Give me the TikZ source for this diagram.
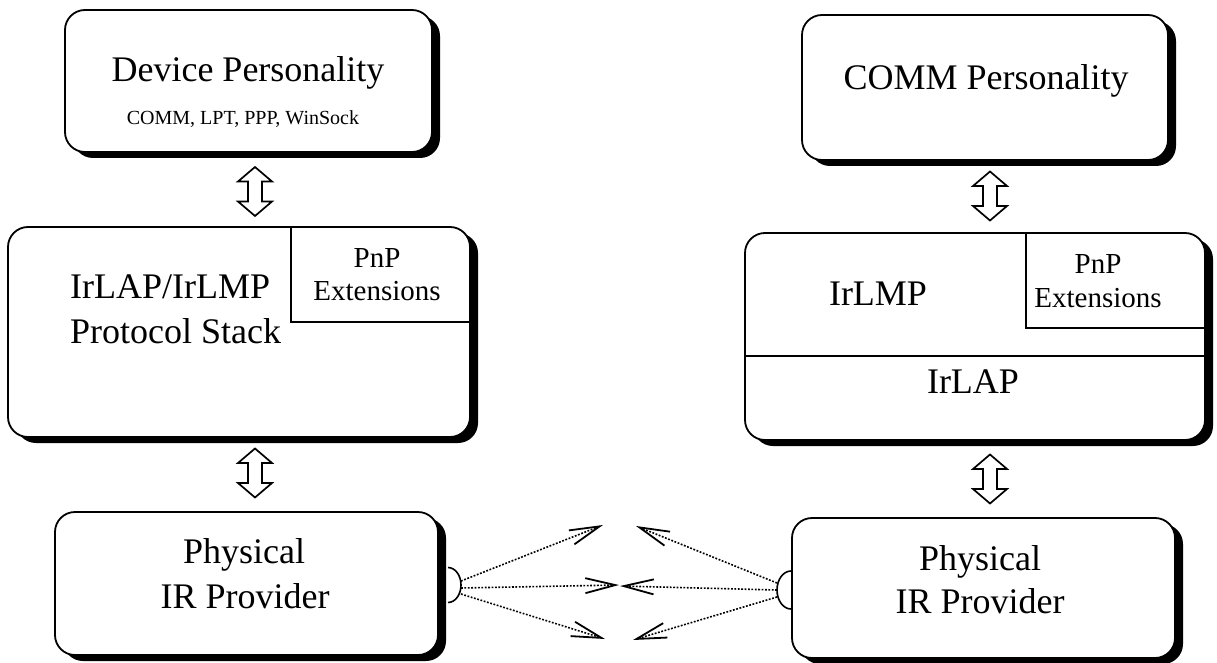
\documentclass[tikz,border=0pt]{standalone}
\usepackage{fontspec}
\setmainfont{Liberation Serif}
\usetikzlibrary{shadows,arrows.meta,calc}
\begin{document}
\begin{tikzpicture}[x=1pt,y=-1pt,
  box/.style={draw=black, line width=1.8pt, rounded corners=20pt, fill=white, inner sep=0pt,
    drop shadow={shadow xshift=8pt, shadow yshift=-6pt, fill=black, opacity=1, draw=none}},
  big/.style={inner sep=0pt, font=\fontsize{36}{45}\selectfont},
  mid/.style={inner sep=0pt, font=\fontsize{29}{34}\selectfont},
  small/.style={inner sep=0pt, font=\fontsize{20}{24}\selectfont},
  divider/.style={draw=black, line width=1.2pt},
  ray/.style={line width=1.6pt, dash pattern=on 1.8pt off 1.6pt,
    -{Straight Barb[length=30pt,width=15pt,line width=1.8pt]}},
  emitter/.style={line width=1.6pt},
  dblarrow/.pic={\draw[line width=1.7pt, fill=white, line join=miter]
    (0,-24.5) -- (17,-10) -- (7,-10) -- (7,10) -- (17,10) -- (0,24.5)
    -- (-17,10) -- (-7,10) -- (-7,-10) -- (-17,-10) -- cycle;}
]
\useasboundingbox (0,0) rectangle (1217,663);

% ---- left column ----
\node[box, minimum width=367pt, minimum height=142pt] (dev) at (248.5,81) {};
\node[big, anchor=base] (devt) at (248,82) {Device Personality};
\node[small, anchor=base] (devs) at (243,125) {COMM, LPT, PPP, WinSock};

\node[box, minimum width=462pt, minimum height=210pt] (stack) at (239,332) {};
\draw[divider] (291,227) -- (291,322) -- (470,322);
\node[big, anchor=base west] (st1) at (70,298) {IrLAP/IrLMP};
\node[big, anchor=base west] (st2) at (70,343) {Protocol Stack};
\node[mid, anchor=base] (pnp1) at (377,267) {PnP};
\node[mid, anchor=base] (ext1) at (377,300) {Extensions};

\node[box, minimum width=383pt, minimum height=143pt] (phl) at (246.5,583.5) {};
\node[big, anchor=base] (phl1) at (244,563) {Physical};
\node[big, anchor=base] (phl2) at (245,608) {IR Provider};

\pic (da1) at (255,191.5) {dblarrow};
\pic (da2) at (255,473) {dblarrow};

% ---- right column ----
\node[box, minimum width=366pt, minimum height=145pt] (comm) at (985,87.5) {};
\node[big, anchor=base] (commt) at (986,90) {COMM Personality};

\node[box, minimum width=460pt, minimum height=207pt] (lmp) at (975,336.5) {};
\draw[divider] (1026,233) -- (1026,328) -- (1205,328);
\draw[divider] (745,356) -- (1205,356);
\node[big, anchor=base] (lmpt) at (878,305) {IrLMP};
\node[mid, anchor=base] (pnp2) at (1098,273) {PnP};
\node[mid, anchor=base] (ext2) at (1098,307) {Extensions};
\node[big, anchor=base] (lapt) at (973,393) {IrLAP};

\node[box, minimum width=383pt, minimum height=140pt] (phr) at (983.5,588) {};
\node[big, anchor=base] (phr1) at (980,570) {Physical};
\node[big, anchor=base] (phr2) at (980,613) {IR Provider};

\pic (db1) at (990,196) {dblarrow};
\pic (db2) at (990,479) {dblarrow};

% ---- IR emitters ----
\draw[emitter] (448,567.5) arc[start angle=90, end angle=-90, x radius=13pt, y radius=17.5pt];
\draw[emitter] (791,571) arc[start angle=90, end angle=270, x radius=14pt, y radius=19pt];

\coordinate (le1) at (461,581);
\coordinate (le2) at (461,588);
\coordinate (le3) at (461,594);
\coordinate (re1) at (777,583);
\coordinate (re2) at (777,590);
\coordinate (re3) at (777,597);
\coordinate (lt1) at (603,525);
\coordinate (lt2) at (619,585);
\coordinate (lt3) at (605,639);
\coordinate (rt1) at (636,526);
\coordinate (rt2) at (620,586);
\coordinate (rt3) at (633,640);

\draw[ray] (le1) -- (lt1);
\draw[ray] (le2) -- (lt2);
\draw[ray] (le3) -- (lt3);
\draw[ray] (re1) -- (rt1);
\draw[ray] (re2) -- (rt2);
\draw[ray] (re3) -- (rt3);
\end{tikzpicture}
\end{document}
